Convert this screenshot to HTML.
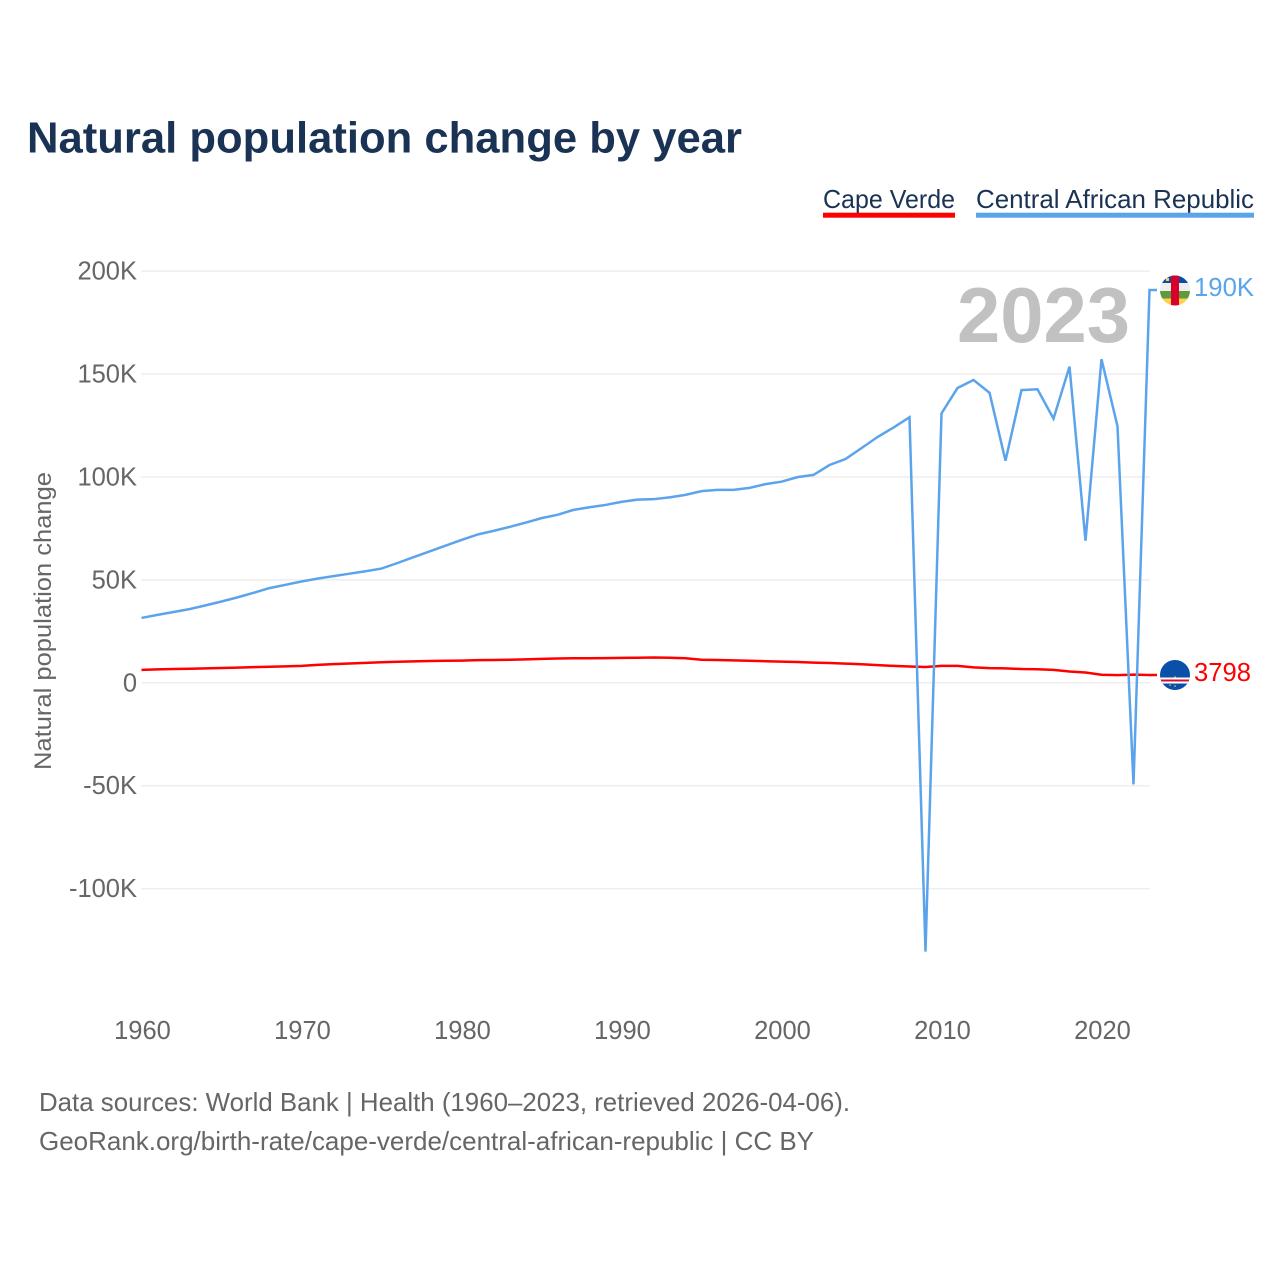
<!DOCTYPE html>
<html lang="en">
<head>
<meta charset="utf-8">
<title>Natural population change by year</title>
<style>
html,body{margin:0;padding:0;background:#fff;width:1280px;height:1280px;overflow:hidden}
svg{display:block}
text{font-family:"Liberation Sans",sans-serif}
</style>
</head>
<body>
<svg id="chart" xmlns="http://www.w3.org/2000/svg" width="1280" height="1280" viewBox="0 0 1280 1280">
  <defs>
    <clipPath id="clip-car"><circle cx="1175" cy="290.5" r="15"/></clipPath>
    <clipPath id="clip-cv"><circle cx="1175" cy="675" r="15"/></clipPath>
  </defs>
  <rect width="1280" height="1280" fill="#ffffff"/>
  <text x="27" y="152.5" font-size="44" font-weight="700" fill="#1a3355" textLength="715" lengthAdjust="spacingAndGlyphs">Natural population change by year</text>

  <g>
    <text x="823" y="208" font-size="26" fill="#1a3355" textLength="132" lengthAdjust="spacingAndGlyphs">Cape Verde</text>
    <rect x="823" y="212.7" width="132" height="5" fill="#ff0000"/>
  </g>
  <g>
    <text x="976" y="208" font-size="26" fill="#1a3355" textLength="278" lengthAdjust="spacingAndGlyphs">Central African Republic</text>
    <rect x="976" y="212.7" width="278" height="5" fill="#5ba4ec"/>
  </g>

  <g id="grid"></g>
  <g id="yticks"></g>
  <g id="xticks"></g>
  <text transform="translate(51,621) rotate(-90)" text-anchor="middle" font-size="24.5" fill="#666666" textLength="298" lengthAdjust="spacingAndGlyphs">Natural population change</text>

  <text id="year-label" x="957" y="342" font-size="78" font-weight="700" fill="#c1c1c1" textLength="173" lengthAdjust="spacingAndGlyphs">2023</text>

  <g id="lines"></g>

  <g clip-path="url(#clip-car)">
    <rect x="1160" y="275" width="30" height="8" fill="#0a4da2"/>
    <rect x="1160" y="283" width="30" height="8" fill="#eeeeee"/>
    <rect x="1160" y="291" width="30" height="7.5" fill="#5f9a3c"/>
    <rect x="1160" y="298.5" width="30" height="7.5" fill="#ffd24a"/>
    <rect x="1171" y="275" width="8" height="31" fill="#d8002c"/>
    <rect x="1166" y="278" width="3" height="3" fill="#ffd24a"/>
  </g>
  <g clip-path="url(#clip-cv)">
    <rect x="1160" y="660" width="30" height="30" fill="#0a4fa8"/>
    <rect x="1160" y="677.5" width="30" height="6" fill="#ffffff"/>
    <rect x="1160" y="679.5" width="30" height="2" fill="#d21034"/>
    <circle cx="1171" cy="679" r="0.8" fill="#ffd24a"/>
    <circle cx="1175" cy="686" r="0.8" fill="#ffd24a"/>
    <circle cx="1170" cy="685" r="0.8" fill="#ffd24a"/>
    <circle cx="1175" cy="677" r="0.8" fill="#ffd24a"/>
  </g>

  <text id="end-car" x="1194" y="296" font-size="26" fill="#5ba4ec" textLength="60" lengthAdjust="spacingAndGlyphs">190K</text>
  <text id="end-cv" x="1194" y="681" font-size="26" fill="#ff0000" textLength="57" lengthAdjust="spacingAndGlyphs">3798</text>

  <text x="39" y="1111" font-size="26" fill="#666666" textLength="811" lengthAdjust="spacingAndGlyphs">Data sources: World Bank | Health (1960–2023, retrieved 2026-04-06).</text>
  <text x="39" y="1150" font-size="26" fill="#666666" textLength="775" lengthAdjust="spacingAndGlyphs">GeoRank.org/birth-rate/cape-verde/central-african-republic | CC BY</text>
</svg>
<script>
const startYear = 1960;
const xTickYears = [1960, 1970, 1980, 1990, 2000, 2010, 2020];
const yTickValues = [200, 150, 100, 50, 0, -50, -100];
const yTickLabels = ["200K", "150K", "100K", "50K", "0", "-50K", "-100K"];
const capeVerde = [6.3,6.5,6.7,6.85,7.0,7.2,7.4,7.6,7.8,8.0,8.2,8.7,9.1,9.4,9.7,10.0,10.2,10.4,10.6,10.7,10.8,11.0,11.1,11.2,11.4,11.6,11.8,11.9,11.9,12.0,12.1,12.2,12.3,12.2,11.9,11.2,11.1,10.9,10.7,10.5,10.3,10.1,9.8,9.6,9.3,9.0,8.6,8.2,7.9,7.7,8.2,8.2,7.5,7.1,7.0,6.7,6.6,6.3,5.5,5.0,3.9,3.7,4.0,3.8];
const centralAfricanRepublic = [31.5,33,34.4,35.8,37.6,39.5,41.5,43.7,46,47.6,49.2,50.6,51.8,53,54.2,55.5,58.2,61,63.8,66.6,69.4,72,73.8,75.7,77.8,80,81.6,84,85.3,86.4,87.9,89,89.2,90.1,91.3,93.1,93.7,93.7,94.7,96.5,97.7,99.9,101,105.8,108.7,114,119.4,124,129,-130.6,130.9,143.2,147.1,140.9,107.9,142.2,142.6,128.3,153.6,69,157.2,124.6,-49.4,190.8];

const NS = 'http://www.w3.org/2000/svg';
function xScale(year) { return 141.5 + (year - 1960) * 16; }
function yScale(v) { return 682.8 - v * 2.0585; }

const grid = document.getElementById('grid');
const yticks = document.getElementById('yticks');
const xticks = document.getElementById('xticks');
const lines = document.getElementById('lines');

yTickValues.forEach(function (v, i) {
  const ln = document.createElementNS(NS, 'line');
  
  
  ln.setAttribute('x1', 141);
  ln.setAttribute('x2', 1150);
  ln.setAttribute('y1', yScale(v));
  ln.setAttribute('y2', yScale(v));
  ln.setAttribute('stroke', '#eeeeee');
  ln.setAttribute('stroke-width', 1.5);
  grid.appendChild(ln);

  const t = document.createElementNS(NS, 'text');
  
  
  t.setAttribute('x', 137);
  t.setAttribute('y', yScale(v) + 8.5);
  t.setAttribute('text-anchor', 'end');
  t.setAttribute('font-size', 25.5);
  t.setAttribute('fill', '#666666');
  t.textContent = yTickLabels[i];
  yticks.appendChild(t);
});

xTickYears.forEach(function (year) {
  const t = document.createElementNS(NS, 'text');
  
  
  t.setAttribute('x', xScale(year) + 1);
  t.setAttribute('y', 1039);
  t.setAttribute('text-anchor', 'middle');
  t.setAttribute('font-size', 25.5);
  t.setAttribute('fill', '#666666');
  t.textContent = String(year);
  xticks.appendChild(t);
});

function linePath(values) {
  const pts = values.map(function (v, i) {
    return xScale(startYear + i).toFixed(2) + ',' + yScale(v).toFixed(2);
  });
  const lastX = xScale(startYear + values.length - 1) + 7.5;
  const lastY = yScale(values[values.length - 1]).toFixed(2);
  return 'M' + pts.join('L') + 'L' + lastX + ',' + lastY;
}

const redLine = document.createElementNS(NS, 'path');


redLine.setAttribute('d', linePath(capeVerde));
redLine.setAttribute('fill', 'none');
redLine.setAttribute('stroke', '#ff0000');
redLine.setAttribute('stroke-width', 2.5);
redLine.setAttribute('stroke-linejoin', 'miter');
lines.appendChild(redLine);

const blueLine = document.createElementNS(NS, 'path');


blueLine.setAttribute('d', linePath(centralAfricanRepublic));
blueLine.setAttribute('fill', 'none');
blueLine.setAttribute('stroke', '#5ba4ec');
blueLine.setAttribute('stroke-width', 2.5);
blueLine.setAttribute('stroke-linejoin', 'miter');
lines.appendChild(blueLine);
</script>
</body>
</html>
